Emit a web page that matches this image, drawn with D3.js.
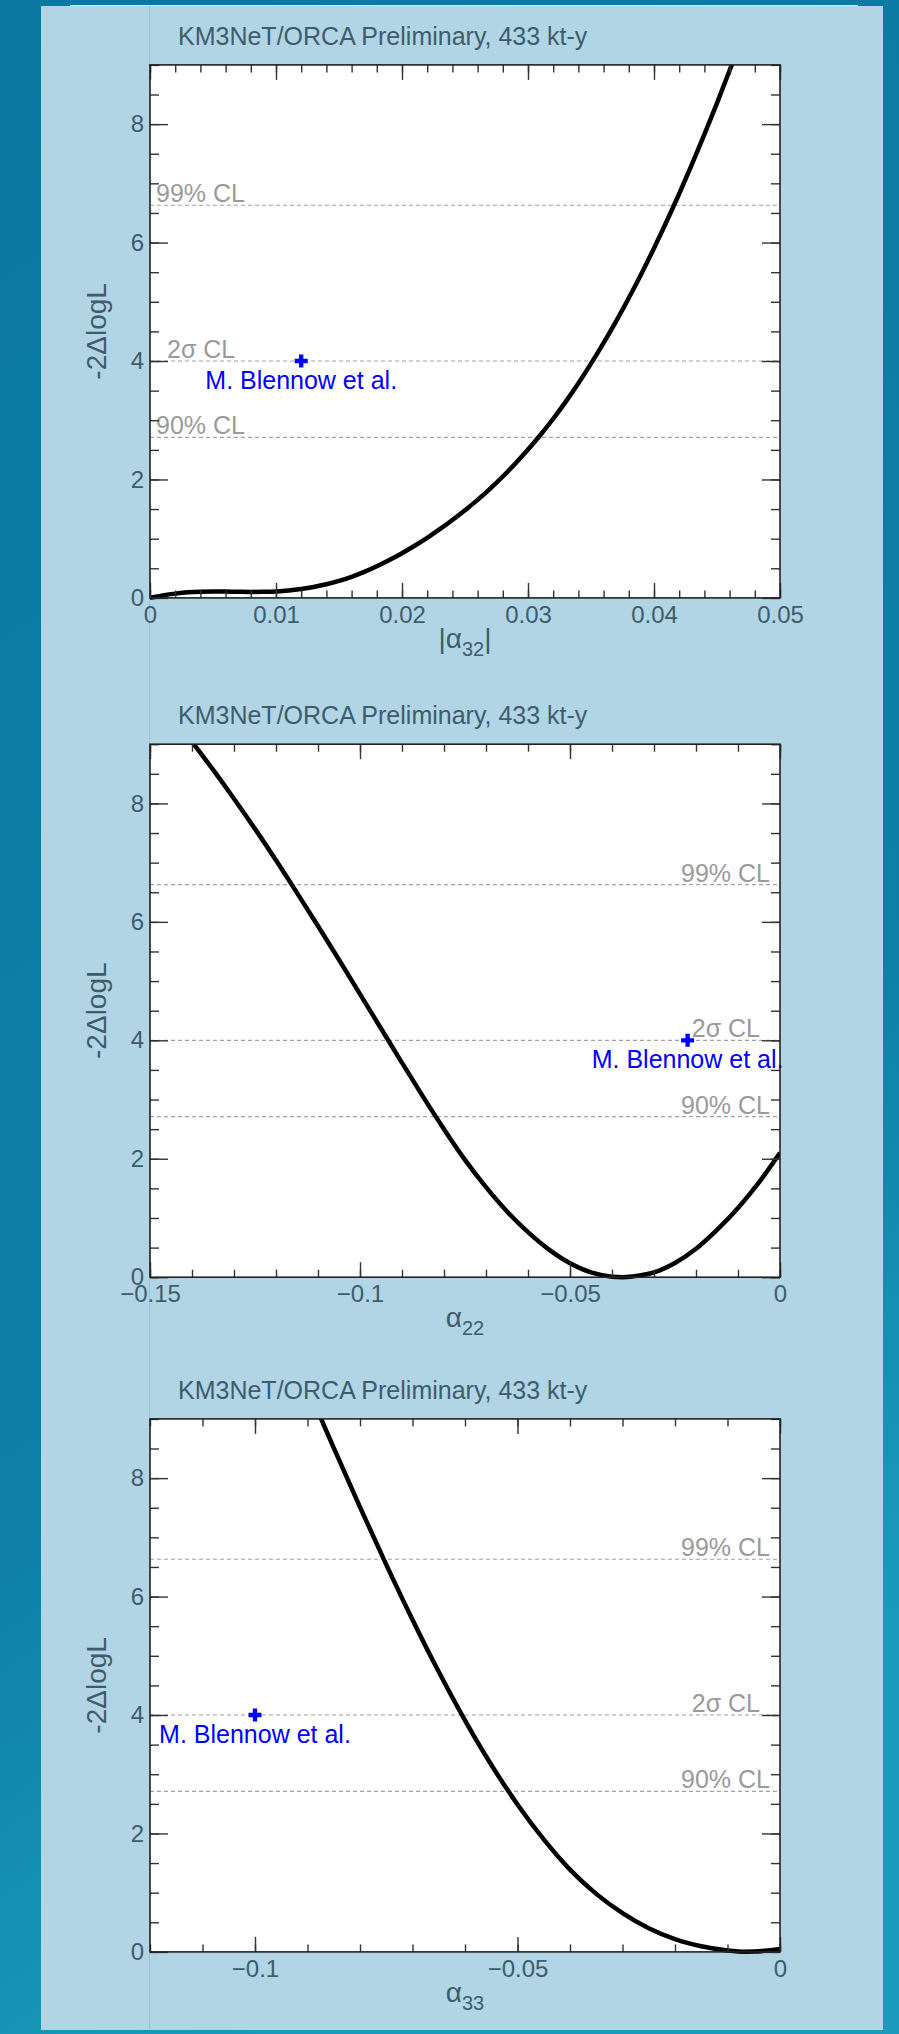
<!DOCTYPE html>
<html>
<head>
<meta charset="utf-8">
<script src="https://cdn.jsdelivr.net/npm/d3@7"></script>
<style>
  body { margin: 0; background: #0d7ca4; }
  svg { display: block; }
  text { font-family: "Liberation Sans", Arial, Helvetica, sans-serif; }
</style>
</head>
<body>
<div class="chart"></div>
<script>
// ---- data ----
const titleText = "KM3NeT/ORCA Preliminary, 433 kt-y";
const yTicks = [0, 2, 4, 6, 8];
const clLevels = [6.63, 4, 2.71];
const clNames = ["99% CL", "2σ CL", "90% CL"];

const xTicks32 = [0, 0.01, 0.02, 0.03, 0.04, 0.05];
const xTicks22 = [-0.15, -0.1, -0.05, 0];
const xTicks33 = [-0.1, -0.05, 0];

const a32X = [0, 0.001, 0.002, 0.003, 0.004, 0.005, 0.006, 0.007, 0.008, 0.009, 0.010,
  0.011, 0.012, 0.013, 0.014, 0.015, 0.016, 0.017, 0.018, 0.019, 0.020,
  0.021, 0.022, 0.023, 0.024, 0.025, 0.026, 0.027, 0.028, 0.029, 0.030,
  0.031, 0.032, 0.033, 0.034, 0.035, 0.036, 0.037, 0.038, 0.039, 0.040,
  0.041, 0.042, 0.043, 0.044, 0.045, 0.046, 0.047];
const a32Y = [0, 0.04, 0.072, 0.095, 0.105, 0.108, 0.106, 0.103, 0.101, 0.103, 0.11,
  0.125, 0.15, 0.185, 0.23, 0.287, 0.357, 0.44, 0.535, 0.64, 0.755,
  0.88, 1.015, 1.16, 1.315, 1.48, 1.655, 1.845, 2.05, 2.27, 2.505,
  2.755, 3.025, 3.315, 3.625, 3.955, 4.305, 4.675, 5.065, 5.475, 5.905,
  6.355, 6.825, 7.315, 7.825, 8.355, 8.905, 9.48];

const a22X = [-0.14, -0.135, -0.13, -0.125, -0.12, -0.115, -0.11, -0.105, -0.1, -0.095,
  -0.09, -0.085, -0.08, -0.075, -0.07, -0.065, -0.06, -0.055, -0.05, -0.045,
  -0.04, -0.0375, -0.035, -0.03, -0.025, -0.02, -0.015, -0.01, -0.005, 0];
const a22Y = [9.04, 8.57, 8.08, 7.57, 7.04, 6.49, 5.93, 5.36, 4.78, 4.2,
  3.62, 3.05, 2.5, 1.98, 1.52, 1.11, 0.76, 0.465, 0.235, 0.08,
  0.008, 0, 0.014, 0.08, 0.24, 0.48, 0.8, 1.17, 1.6, 2.1];

const a33X = [-0.09, -0.085, -0.08, -0.075, -0.07, -0.065, -0.06, -0.055, -0.05, -0.045,
  -0.04, -0.035, -0.03, -0.025, -0.02, -0.015, -0.01, -0.0065, -0.005, 0];
const a33Y = [9.53, 8.51, 7.51, 6.54, 5.61, 4.73, 3.91, 3.16, 2.49, 1.9,
  1.39, 0.98, 0.655, 0.4, 0.215, 0.095, 0.025, 0.003, 0.005, 0.05];

const blennowX = [0.012, -0.022, -0.1];
const blennowY = 4;
const blennowTextY = 3.53;
const blennowLabel = "M. Blennow et al.";

// ---- layout ----
const W = 899, H = 2034;
const plotLeft = 150, plotW = 630, plotH = 533;
const panelTops = [64.9, 744.2, 1418.9];
const textCol = "#3e5c6c";

const panels = [
  { xs: a32X, ys: a32Y, domain: [0, 0.05], xTicks: xTicks32, minorStep: 0.002, sub: "32", bars: true,
    markX: blennowX[0], clAlign: "start", clPos: [6, 17, 6] },
  { xs: a22X, ys: a22Y, domain: [-0.15, 0], xTicks: xTicks22, minorStep: 0.01, sub: "22", bars: false,
    markX: blennowX[1], clAlign: "end", clPos: [620, 610, 620] },
  { xs: a33X, ys: a33Y, domain: [-0.12, 0], xTicks: xTicks33, minorStep: 0.01, sub: "33", bars: false,
    markX: blennowX[2], clAlign: "end", clPos: [620, 610, 620] }
];

const svg = d3.select(".chart").append("svg").attr("width", W).attr("height", H);
const defs = svg.append("defs");

const grad = defs.append("linearGradient").attr("id", "bg")
  .attr("x1", 0).attr("y1", 0).attr("x2", 0.3).attr("y2", 1);
grad.append("stop").attr("offset", 0).attr("stop-color", "#0b78a0");
grad.append("stop").attr("offset", 0.7).attr("stop-color", "#0e80a7");
grad.append("stop").attr("offset", 1).attr("stop-color", "#1a9bbb");

svg.append("rect").attr("width", W).attr("height", H).attr("fill", "url(#bg)");
svg.append("rect").attr("x", 41).attr("y", 6).attr("width", 842).attr("height", 2024)
  .attr("fill", "#b1d5e4");
svg.append("line").attr("x1", 70).attr("x2", 858).attr("y1", 5.5).attr("y2", 5.5)
  .attr("stroke", "#d6ebf3").attr("stroke-width", 1);
svg.append("line").attr("x1", 149.5).attr("x2", 149.5).attr("y1", 6).attr("y2", 2030)
  .attr("stroke", "#95c3d8").attr("stroke-width", 1);

function styleAxis(sel, withText) {
  sel.select(".domain").remove();
  sel.selectAll(".tick line").attr("stroke", "#333").attr("stroke-width", 1.4);
  if (withText) {
    sel.selectAll(".tick text").attr("fill", textCol).attr("font-size", 24)
      .attr("font-family", "'Liberation Sans', Arial, sans-serif");
  } else {
    sel.selectAll(".tick text").remove();
  }
}

panels.forEach((p, i) => {
  const top = panelTops[i];
  const g = svg.append("g").attr("transform", `translate(${plotLeft},${top})`);

  const x = d3.scaleLinear().domain(p.domain).range([0, plotW]);
  const y = d3.scaleLinear().domain([0, 9]).range([plotH, 0]);

  const minorX = d3.range(p.domain[0], p.domain[1] + p.minorStep / 2, p.minorStep);
  const minorY = d3.range(0, 9.01, 0.5);

  g.append("rect").attr("width", plotW).attr("height", plotH).attr("fill", "#fff");

  defs.append("clipPath").attr("id", "clip" + i)
    .append("rect").attr("x", 0).attr("y", 0).attr("width", plotW).attr("height", plotH + 3);

  // confidence level lines
  g.selectAll(".cl").data(clLevels).enter().append("line")
    .attr("x1", 0).attr("x2", plotW)
    .attr("y1", d => y(d)).attr("y2", d => y(d))
    .attr("stroke", "#a2a2a2").attr("stroke-width", 1.2)
    .attr("stroke-dasharray", "4,3");

  g.selectAll(".cltext").data(clLevels).enter().append("text")
    .attr("x", (d, j) => p.clPos[j])
    .attr("y", d => y(d) - 3)
    .attr("text-anchor", p.clAlign)
    .attr("fill", "#9a9a9a").attr("font-size", 25)
    .text((d, j) => clNames[j]);

  // likelihood curve
  const line = d3.line().x(d => x(d[0])).y(d => y(d[1])).curve(d3.curveMonotoneX);
  g.append("path").datum(d3.zip(p.xs, p.ys))
    .attr("clip-path", `url(#clip${i})`)
    .attr("d", line)
    .attr("fill", "none").attr("stroke", "#000").attr("stroke-width", 4.5)
    .attr("stroke-linejoin", "round");

  // reference point
  g.append("path")
    .attr("d", d3.symbol(d3.symbolCross).size(94)())
    .attr("transform", `translate(${x(p.markX)},${y(blennowY)})`)
    .attr("fill", "#0000ff");
  g.append("text")
    .attr("x", x(p.markX)).attr("y", y(blennowTextY))
    .attr("text-anchor", "middle").attr("fill", "#0000ff").attr("font-size", 25)
    .text(blennowLabel);

  // axes: ticks on all four sides, pointing inward
  const fmt = d3.format("~g");
  g.append("g").attr("transform", `translate(0,${plotH})`)
    .call(d3.axisBottom(x).tickValues(minorX).tickSize(-7.5)).call(s => styleAxis(s, false));
  g.append("g").attr("transform", `translate(0,${plotH})`)
    .call(d3.axisBottom(x).tickValues(p.xTicks).tickSize(-15).tickPadding(8).tickFormat(fmt))
    .call(s => styleAxis(s, true));
  g.append("g")
    .call(d3.axisTop(x).tickValues(minorX).tickSize(-7.5)).call(s => styleAxis(s, false));
  g.append("g")
    .call(d3.axisTop(x).tickValues(p.xTicks).tickSize(-15)).call(s => styleAxis(s, false));

  g.append("g")
    .call(d3.axisLeft(y).tickValues(minorY).tickSize(-9)).call(s => styleAxis(s, false));
  g.append("g")
    .call(d3.axisLeft(y).tickValues(yTicks).tickSize(-18).tickPadding(6).tickFormat(fmt))
    .call(s => styleAxis(s, true));
  g.append("g").attr("transform", `translate(${plotW},0)`)
    .call(d3.axisRight(y).tickValues(minorY).tickSize(-9)).call(s => styleAxis(s, false));
  g.append("g").attr("transform", `translate(${plotW},0)`)
    .call(d3.axisRight(y).tickValues(yTicks).tickSize(-18)).call(s => styleAxis(s, false));

  g.append("rect").attr("width", plotW).attr("height", plotH)
    .attr("fill", "none").attr("stroke", "#222").attr("stroke-width", 1.6);

  // titles
  g.append("text").attr("x", 28).attr("y", -20)
    .attr("fill", textCol).attr("font-size", 25).text(titleText);

  const xt = g.append("text").attr("x", plotW / 2).attr("y", plotH + 50)
    .attr("text-anchor", "middle").attr("fill", textCol).attr("font-size", 28);
  xt.append("tspan").text((p.bars ? "|" : "") + "α");
  xt.append("tspan").attr("font-size", 20).attr("dy", 8).text(p.sub);
  if (p.bars) xt.append("tspan").attr("dy", -8).text("|");

  g.append("text")
    .attr("transform", `translate(-44,${plotH / 2}) rotate(-90)`)
    .attr("text-anchor", "middle").attr("fill", textCol).attr("font-size", 28)
    .text("-2ΔlogL");
});
</script>
</body>
</html>
